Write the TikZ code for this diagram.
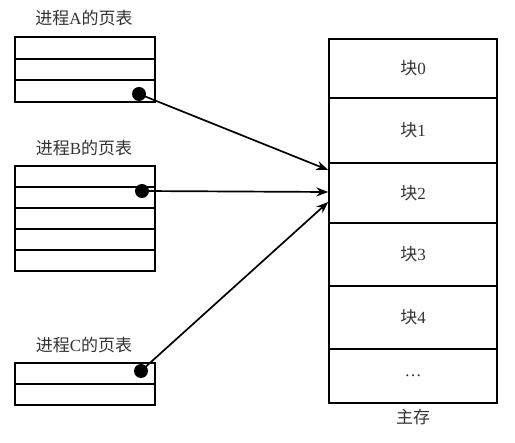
\documentclass[tikz,border=0pt]{standalone}
\usepackage{fontspec}
\setmainfont{Liberation Serif}
\newfontfamily\cjk{Noto Sans CJK SC}
\usetikzlibrary{arrows.meta}

\begin{document}
\begin{tikzpicture}[x=1pt,y=-1pt,font=\fontsize{17}{19}\selectfont,
  row/.style={draw,line width=2pt,minimum width=140pt,inner sep=0pt,anchor=north west},
  block/.style={draw,line width=1.5pt,minimum width=168pt,inner sep=0pt},
  pin/.style={circle,fill=black,minimum size=14pt,inner sep=0pt},
  title/.style={text=black!80},
  link/.style={line width=1.7pt,-{Stealth[length=12pt,width=9pt]}}]
\useasboundingbox (0,0) rectangle (515,443);
% Page table of process A
\node[title] (titA) at (84,18) {{\cjk 进程}A{\cjk 的页表}};
\foreach \i in {0,1,2}
  \node[row,minimum height=21.7pt] (a\i) at (14,{36+21.7*\i}) {};
% Page table of process B
\node[title] (titB) at (84,148) {{\cjk 进程}B{\cjk 的页表}};
\foreach \i in {0,...,4}
  \node[row,minimum height=21pt] (b\i) at (14,{165+21*\i}) {};
% Page table of process C
\node[title] (titC) at (84,345) {{\cjk 进程}C{\cjk 的页表}};
\foreach \i in {0,1}
  \node[row,minimum height=21pt] (c\i) at (14,{362+21*\i}) {};
% Main memory
\foreach \i/\yt/\yb in {0/39/98,1/98/163,2/163/223,3/223/286,4/286/349}
  \node[block,title,minimum height={(\yb-\yt)*1pt}] (m\i) at (413,{(\yt+\yb)/2}) {{\cjk 块}\i};
\node[block,title,minimum height=54pt] (m5) at (413,376) {\dots};
\node[title] (mem) at (413,417) {\cjk 主存};
% Entries pointing to block 2
\node[pin] (pa) at (139,94) {};
\node[pin] (pb) at (142,191) {};
\node[pin] (pc) at (141,371) {};
\coordinate (ea) at (m2.west |- 0,170);
\coordinate (eb) at (m2.west |- 0,192);
\coordinate (ec) at (m2.west |- 0,202);
\draw[link] (pa.center) -- (ea);
\draw[link] (pb.center) -- (eb);
\draw[link] (pc.center) -- (ec);
\end{tikzpicture}
\end{document}
